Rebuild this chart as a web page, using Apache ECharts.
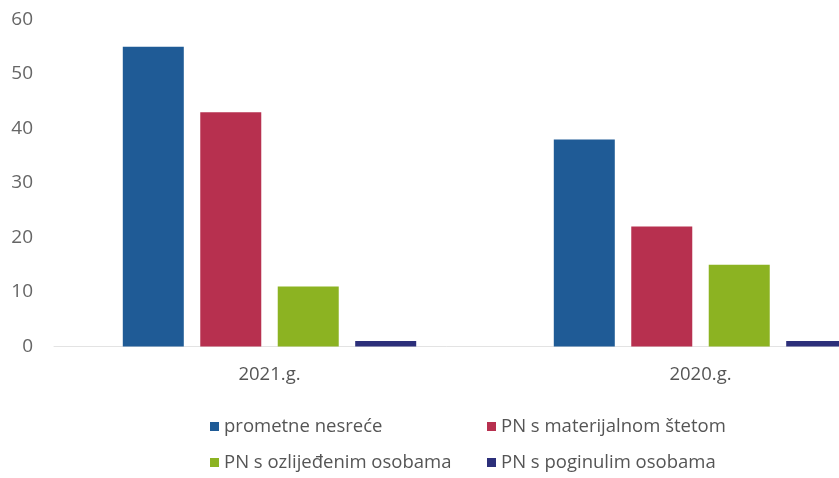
<!DOCTYPE html>
<html>
<head>
<meta charset="utf-8">
<script src="https://cdn.jsdelivr.net/npm/echarts@6/dist/echarts.min.js"></script>
<style>
  html, body { margin: 0; padding: 0; background: #fff; }
  #chart { width: 839px; height: 478px; }
</style>
</head>
<body>
<div id="chart"></div>
<script>
// categories (years) and series
var years = ['2021.g.', '2020.g.'];
var seriesNames = ['prometne nesreće', 'PN s materijalnom štetom', 'PN s ozlijeđenim osobama', 'PN s poginulim osobama'];
var prometne = [55, 38];
var materijalna = [43, 22];
var ozlijedeni = [11, 15];
var poginuli = [1, 1];
var yTicks = [0, 10, 20, 30, 40, 50, 60];

var colors = ['#1f5b96', '#b7304f', '#8cb322', '#2c2f7a'];
var values = [prometne, materijalna, ozlijedeni, poginuli];

var chart = echarts.init(document.getElementById('chart'));

var font = '"Open Sans", "Noto Sans", sans-serif';

function legendAt(name, left, top) {
  return {
    data: [name],
    left: left,
    top: top,
    icon: 'rect',
    itemWidth: 9,
    itemHeight: 9,
    padding: 0,
    selectedMode: false,
    textStyle: { fontFamily: font, fontSize: 18.5, color: '#555' }
  };
}

var option = {
  backgroundColor: '#fff',
  animation: false,
  color: colors,
  legend: [
    legendAt(seriesNames[0], 210, 417),
    legendAt(seriesNames[1], 487, 417),
    legendAt(seriesNames[2], 210, 453),
    legendAt(seriesNames[3], 487, 453)
  ],
  grid: {
    left: 54,
    top: 19.5,
    width: 862,
    height: 327,
    outerBoundsMode: 'none',
    containLabel: false
  },
  xAxis: {
    type: 'category',
    data: years,
    axisTick: { show: false },
    axisLine: { show: true, lineStyle: { color: '#e3e3e3' } },
    axisLabel: { margin: 19, fontFamily: font, fontSize: 18.5, color: '#555' }
  },
  yAxis: {
    type: 'value',
    min: yTicks[0],
    max: yTicks[yTicks.length - 1],
    interval: 10,
    splitLine: { show: false },
    axisLine: { show: false },
    axisTick: { show: false },
    axisLabel: { margin: 21, fontFamily: font, fontSize: 19, color: '#666' }
  },
  series: seriesNames.map(function (n, i) {
    return {
      name: n,
      type: 'bar',
      barWidth: 61,
      barGap: '27%',
      data: values[i]
    };
  })
};

chart.setOption(option);
</script>
</body>
</html>
